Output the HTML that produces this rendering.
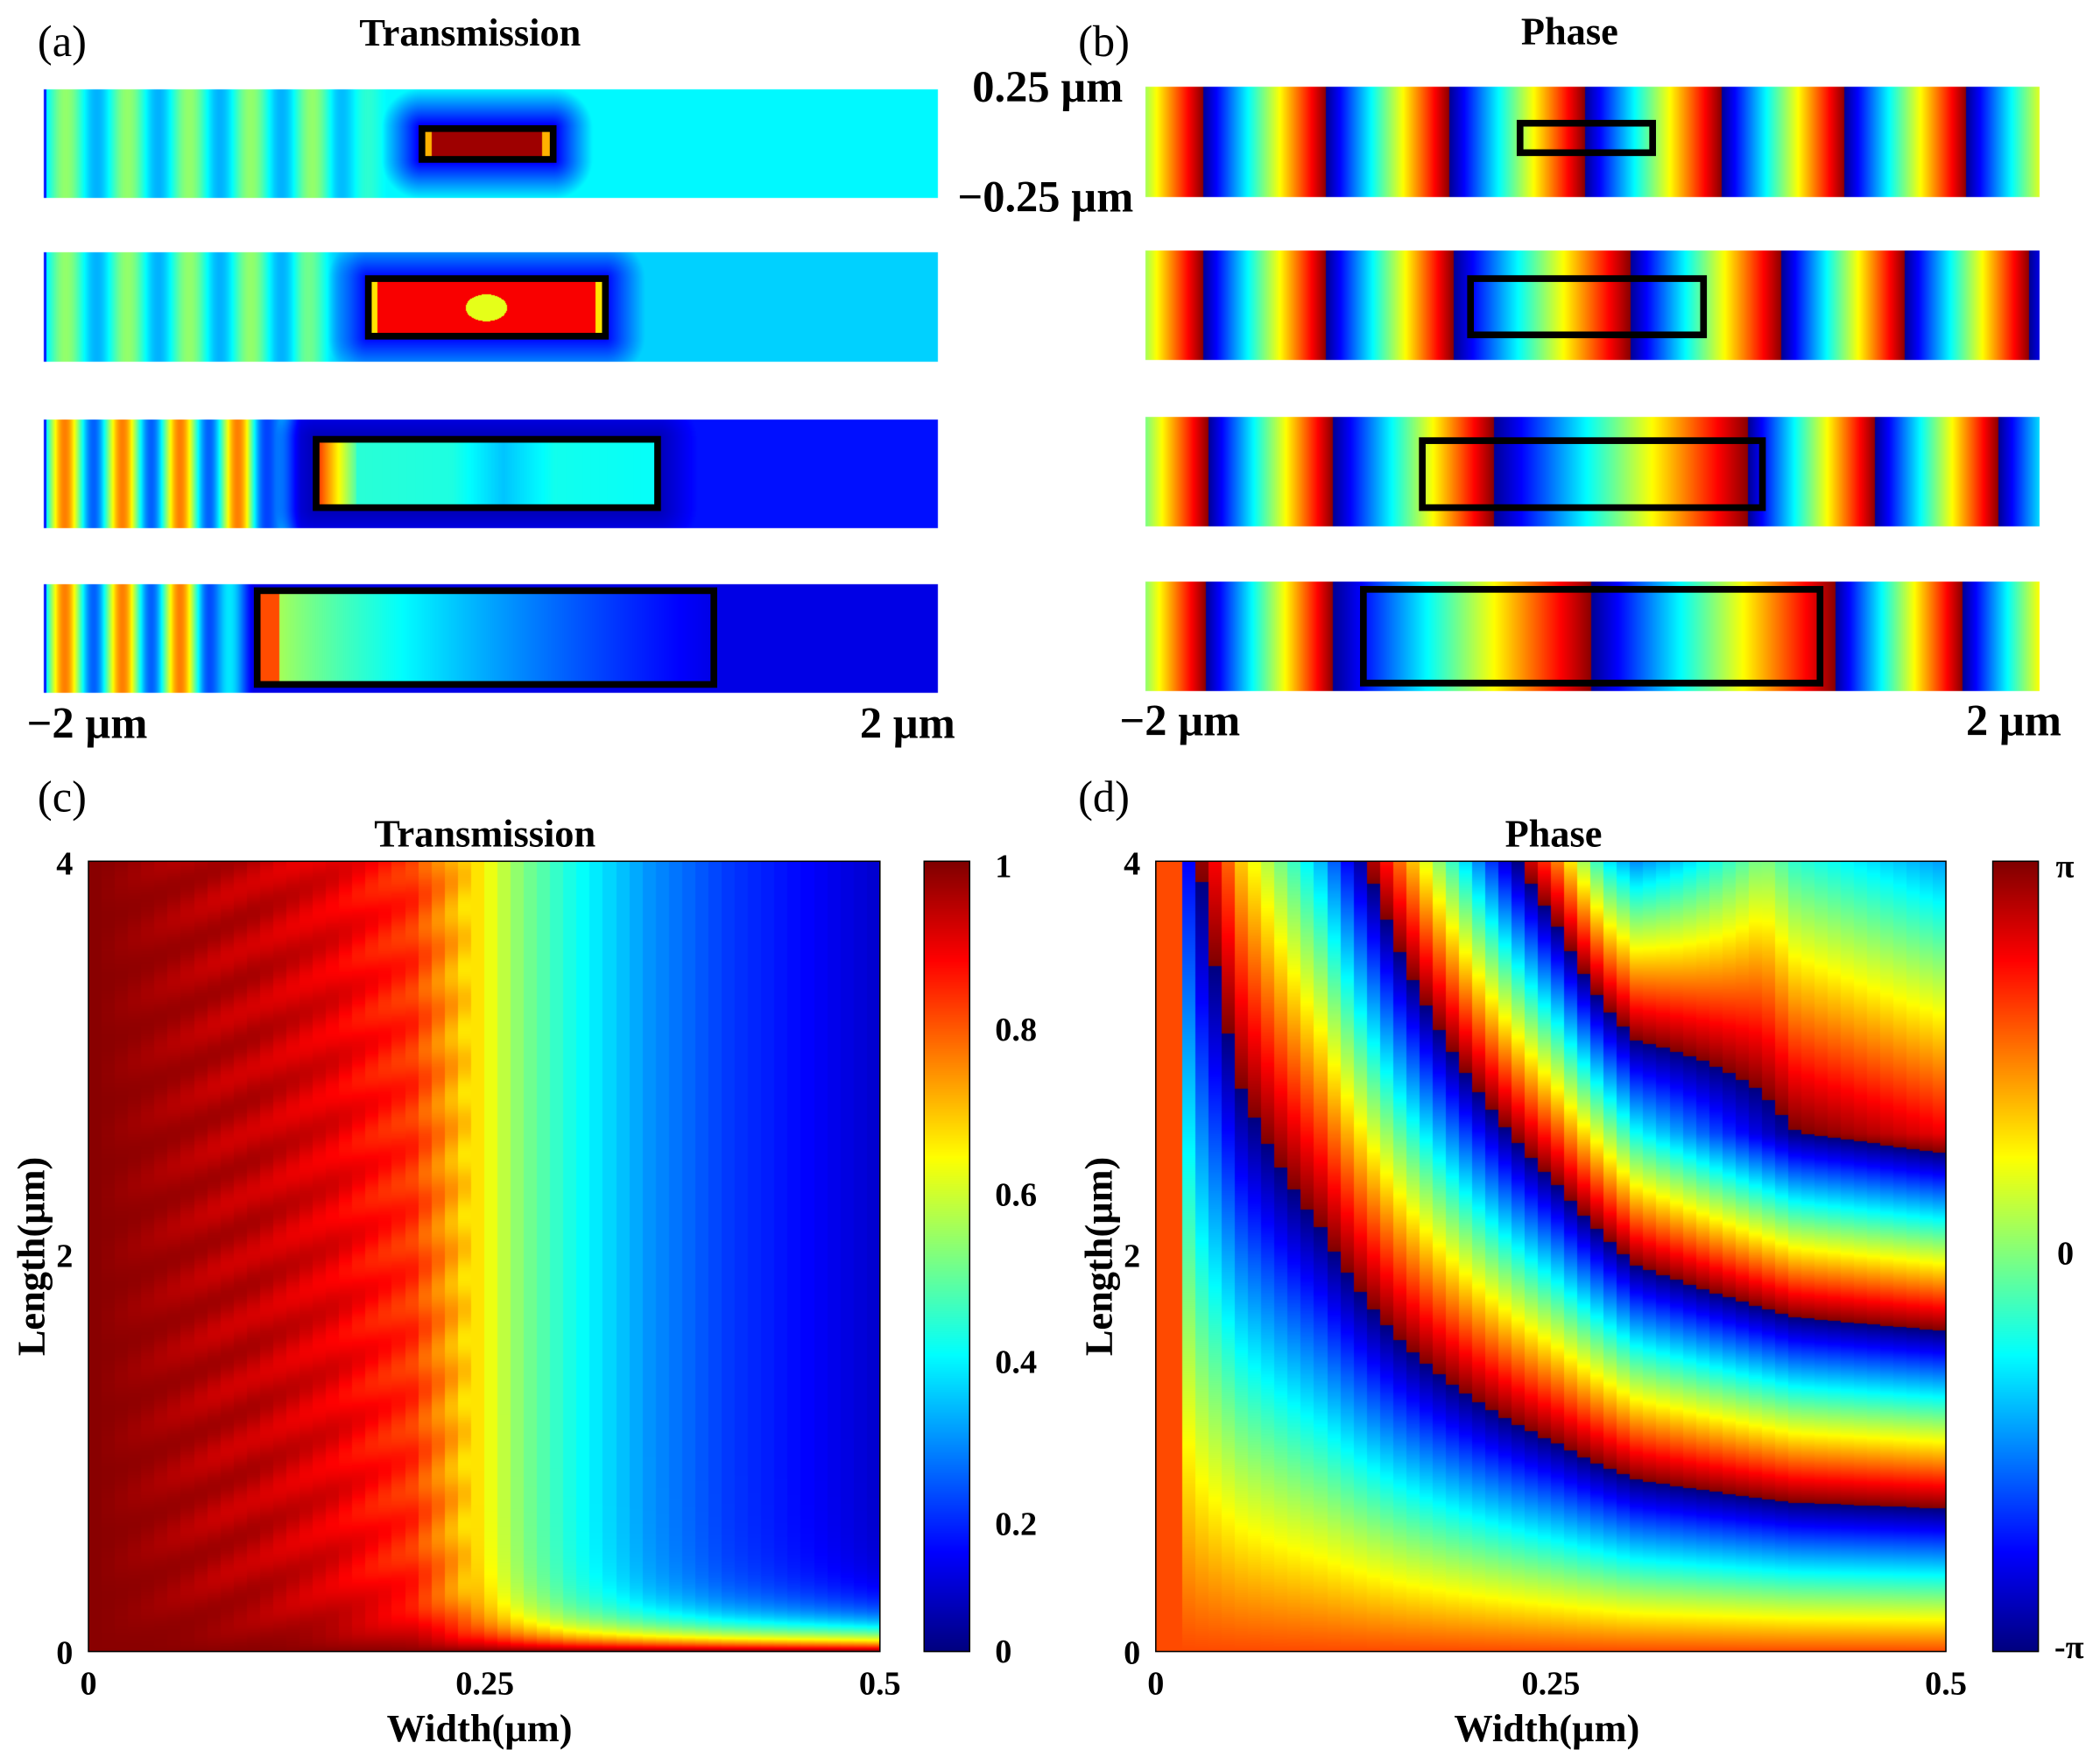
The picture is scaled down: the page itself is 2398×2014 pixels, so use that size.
<!DOCTYPE html>
<html><head><meta charset="utf-8"><style>
html,body{margin:0;padding:0;background:#fff;}
#wrap{position:relative;width:2398px;height:2014px;overflow:hidden;}
canvas,svg{position:absolute;left:0;top:0;}
</style></head><body><div id="wrap">
<canvas id="c" width="2398" height="2014"></canvas>
<svg width="2398" height="2014" viewBox="0 0 1568 1317" font-family="Liberation Serif, serif">
<g fill="none" stroke="#000" stroke-width="5">
<rect x="315" y="96" width="98" height="23"/>
<rect x="275" y="208" width="177" height="43"/>
<rect x="236" y="328" width="255" height="51"/>
<rect x="192" y="441" width="341" height="70"/>
<rect x="1135" y="92" width="99" height="22"/>
<rect x="1098" y="208" width="174" height="42"/>
<rect x="1062" y="329" width="254" height="50"/>
<rect x="1018" y="440" width="341" height="70"/>
</g>
<g fill="none" stroke="#000" stroke-width="1">
<rect x="66" y="643" width="591" height="590"/>
<rect x="690" y="643" width="34" height="590"/>
<rect x="863" y="643" width="590" height="590"/>
<rect x="1488" y="643" width="34" height="590"/>
</g>
<text x="28" y="42" font-size="33">(a)</text>
<text x="805" y="42" font-size="33">(b)</text>
<text x="28" y="606" font-size="33">(c)</text>
<text x="805" y="606" font-size="33">(d)</text>
<g font-weight="bold" font-size="29" text-anchor="middle">
<text x="351" y="34">Transmission</text>
<text x="1172" y="33">Phase</text>
<text x="362" y="632">Transmission</text>
<text x="1160" y="632">Phase</text>
</g>
<g font-weight="bold" font-size="33">
<text x="726" y="76">0.25 µm</text>
<text x="715" y="158">−0.25 µm</text>
<text x="20" y="551">−2 µm</text>
<text x="642" y="551">2 µm</text>
<text x="836" y="549">−2 µm</text>
<text x="1468" y="549">2 µm</text>
</g>
<g font-weight="bold" font-size="25">
<text x="42" y="653">4</text><text x="42" y="946">2</text><text x="42" y="1242">0</text>
<text x="839" y="653">4</text><text x="839" y="946">2</text><text x="839" y="1242">0</text>
<g text-anchor="middle">
<text x="66" y="1265">0</text><text x="362" y="1265">0.25</text><text x="657" y="1265">0.5</text>
<text x="863" y="1265">0</text><text x="1158" y="1265">0.25</text><text x="1453" y="1265">0.5</text>
</g>
<text x="743" y="655">1</text><text x="743" y="777">0.8</text><text x="743" y="900">0.6</text>
<text x="743" y="1025">0.4</text><text x="743" y="1146">0.2</text><text x="743" y="1241">0</text>
<text x="1535" y="655">π</text><text x="1536" y="944">0</text><text x="1534" y="1238">-π</text>
</g>
<g font-weight="bold" font-size="29" text-anchor="middle">
<text x="358" y="1300">Width(µm)</text>
<text x="1155" y="1300">Width(µm)</text>
<text transform="translate(33,938) rotate(-90)">Length(µm)</text>
<text transform="translate(830,938) rotate(-90)">Length(µm)</text>
</g>
</svg>
</div>
<script>
const S=2398/1568;
const cv=document.getElementById('c');const ctx=cv.getContext('2d');
function jet(v){v=Math.max(0,Math.min(1,v));
 function f(x){return Math.max(0,Math.min(1,1.5-Math.abs(x)))}
 const x=4*v;return [f(x-3)*255|0,f(x-2)*255|0,f(x-1)*255|0];}
function fill(x0,y0,x1,y1,fn){
 const X0=Math.round(x0*S),Y0=Math.round(y0*S),X1=Math.round(x1*S),Y1=Math.round(y1*S);
 const w=X1-X0,h=Y1-Y0;const img=ctx.createImageData(w,h);const d=img.data;
 for(let j=0;j<h;j++){const y=y0+(j+0.5)/S;for(let i=0;i<w;i++){const x=x0+(i+0.5)/S;
  const c=jet(fn(x,y));const k=(j*w+i)*4;d[k]=c[0];d[k+1]=c[1];d[k+2]=c[2];d[k+3]=255;}}
 ctx.putImageData(img,X0,Y0);}
function lerp(t,a,b){return a+(b-a)*t}
function clamp(x){return Math.max(0,Math.min(1,x))}
function interp(tab,x){if(x<=tab[0][0])return tab[0][1];for(let i=1;i<tab.length;i++){if(x<=tab[i][0]){const t=(x-tab[i-1][0])/(tab[i][0]-tab[i-1][0]);return lerp(t,tab[i-1][1],tab[i][1]);}}return tab[tab.length-1][1];}
function strip(y0,y1,box,stripeEnd,per,sa,sb,bg,halo,inner){
 fill(33,y0,700,y1,(x,y)=>{
  const bx0=box[0],by0=box[1],bx1=box[2],by1=box[3];
  if(x>=bx0&&x<=bx1&&y>=by0&&y<=by1)return inner((x-bx0)/(bx1-bx0),(y-by0)/(by1-by0));
  let v=bg;
  if(x<stripeEnd){const p=Math.sin((x-38)*2*Math.PI/per);v=p>0?lerp(p,(sa+sb)/2,sa):lerp(-p,(sa+sb)/2,sb);
   const t=(stripeEnd-x)/40; if(t<1)v=lerp(t,bg,v);}
  if(x<35)v=0.15;
  const dx=Math.max(bx0-x,x-bx1,0),dy=Math.max(by0-y,y-by1,0);const dd=Math.sqrt(dx*dx+dy*dy);
  if(halo!==null&&dd<30)v=lerp(dd/30,halo,v);
  return v;});}
strip(67,148,[315,96,413,119],290,46,0.52,0.3,0.37,0.1,(u,w)=>u<0.08||u>0.92?0.7:0.97);
strip(188,270,[275,208,452,251],265,46,0.52,0.3,0.33,0.12,(u,w)=>{const r=Math.hypot((u-0.5)*4,(w-0.5)*1.5);return r<0.35?0.6:(u<0.04||u>0.96?0.65:0.88);});
strip(313,394,[236,328,491,379],225,43,0.75,0.22,0.14,0.05,(u,w)=>{let v=lerp(u,0.42,0.38);if(u<0.12)v=lerp(u/0.12,0.85,0.45);if(Math.abs(u-0.55)<0.15)v-=0.08*(1-Math.abs(u-0.55)/0.15);return v;});
strip(436,517,[192,441,533,511],190,43,0.75,0.22,0.1,null,(u,w)=>{let v=lerp(Math.pow(u,0.7),0.6,0.1);if(u<0.05)v=0.8;return v;});
function phase(y0,y1,jumps){const P=92;const js=[jumps[0]-P].concat(jumps).concat([jumps[jumps.length-1]+P]);
 fill(855,y0,1523,y1,(x,y)=>{for(let i=1;i<js.length;i++){if(x<js[i])return (x-js[i-1])/(js[i]-js[i-1])*0.97+0.02;}return 0.5;});}
phase(65,147,[898,990,1082,1183,1285,1377,1468]);
phase(187,269,[898,990,1085,1217,1330,1422,1515]);
phase(311,393,[902,995,1115,1305,1400,1492]);
phase(434,516,[900,995,1188,1370,1465]);
const Tt=[[0,0.99],[0.1,0.96],[0.15,0.92],[0.2,0.85],[0.22,0.76],[0.24,0.66],[0.27,0.5],[0.3,0.4],[0.35,0.27],[0.4,0.18],[0.5,0.07]];
fill(66,643,657,1233,(x,y)=>{let W=Math.floor((x-66)/591*60)/60*0.5;const L=(1233-y)/590*4;
 let b=interp(Tt,W);if(W<0.24){b-=0.045*(0.5+0.5*Math.sin(2*Math.PI*(L*3.2-W*12)))*Math.min(1,W/0.08);}
 const e=Math.exp(-L/(0.11+0.4*Math.max(0,0.3-W)));b=b+(0.99-b)*e;return b;});
const Kt=[[0,0.4],[0.02,1.2],[0.05,1.77],[0.1,2.35],[0.15,3.2],[0.2,4.0],[0.25,4.8],[0.3,5.8],[0.4,6.7],[0.5,7.0]];
fill(863,643,1453,1233,(x,y)=>{const W=Math.floor((x-863)/590*60)/60*0.5;let L=(1233-y)/590*4;
 const f=clamp((W-0.28)/0.1);if(L>2.62)L=2.62+(L-2.62)*(1-0.6*f);
 let ph=1.9-interp(Kt,W)*L;if(W<0.01)ph=1.9;
 ph=((ph+Math.PI)%(2*Math.PI)+2*Math.PI)%(2*Math.PI);return ph/(2*Math.PI);});
fill(690,643,724,1233,(x,y)=>(1233-y)/590);
fill(1488,643,1522,1233,(x,y)=>(1233-y)/590);
</script>
</body></html>
